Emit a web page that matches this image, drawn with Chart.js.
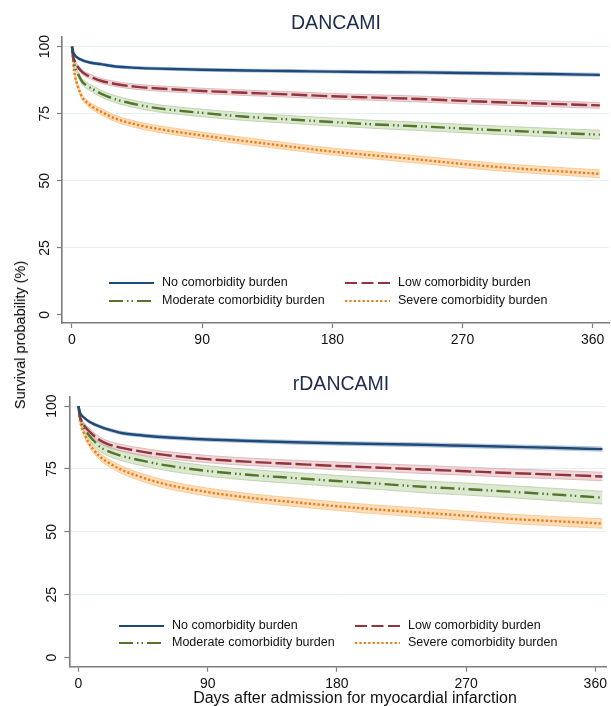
<!DOCTYPE html>
<html><head><meta charset="utf-8">
<script src="https://cdn.jsdelivr.net/npm/chart.js@4.4.1/dist/chart.umd.min.js"></script>
<style>
html,body{margin:0;padding:0;background:#fff;}
#wrap{position:relative;width:611px;height:706px;overflow:hidden;background:#fff;}
.cv{position:absolute;left:0;width:611px;height:353px;}
#ytitle{position:absolute;left:20px;top:335px;transform:translate(-50%,-50%) rotate(-90deg);font:14.5px "Liberation Sans",Arial,sans-serif;white-space:nowrap;color:#000;}
</style></head><body>
<div id="wrap">
<div class="cv" style="top:0"><canvas id="c1"></canvas></div>
<div class="cv" style="top:353px"><canvas id="c2"></canvas></div>
<div id="ytitle">Survival probability (%)</div>
</div>
<script>
// ---------- data ----------
const days = [0,1,2,4,7,10,15,20,30,45,60,90,120,150,180,210,240,270,300,330,365];
const xTicks = [0,90,180,270,360];
const yTicks = [0,25,50,75,100];
const seriesNames = ['No comorbidity burden','Low comorbidity burden','Moderate comorbidity burden','Severe comorbidity burden'];
const panelTitles = ['DANCAMI','rDANCAMI'];
const xAxisTitle = 'Days after admission for myocardial infarction';

// DANCAMI
const topNo  = [100,97.8,96.8,95.8,95.0,94.4,93.8,93.5,92.6,92.1,91.8,91.4,91.1,90.9,90.7,90.5,90.4,90.2,90.0,89.8,89.5];
const topLow = [100,96.0,94.5,92.5,90.6,89.5,88.3,87.3,86.1,85.0,84.4,83.5,82.8,82.2,81.5,81.0,80.5,79.8,79.2,78.7,78.1];
const topMod = [100,95.0,92.8,90.0,87.0,85.6,84.0,82.5,80.4,78.4,77.0,75.3,73.9,72.9,71.9,71.0,70.3,69.5,68.7,68.0,67.2];
const topSev = [100,93.0,89.3,85.3,81.2,79.3,77.3,75.8,73.2,70.9,69.3,66.9,64.8,62.8,60.9,59.4,57.9,56.3,54.9,53.8,52.6];
// CI half-widths (percentage points)
const topNoCI  = [0,0.3,0.35,0.4,0.45,0.45,0.5,0.5,0.5,0.5,0.5,0.55,0.55,0.55,0.55,0.6,0.6,0.6,0.6,0.6,0.6];
const topLowCI = [0,0.5,0.6,0.7,0.8,0.85,0.9,0.9,0.95,0.95,1.0,1.0,1.0,1.05,1.05,1.05,1.1,1.1,1.1,1.1,1.1];
const topModCI = [0,0.7,0.9,1.0,1.1,1.15,1.2,1.25,1.3,1.35,1.35,1.4,1.45,1.45,1.5,1.5,1.55,1.55,1.6,1.6,1.65];
const topSevCI = [0,0.7,0.85,0.95,1.0,1.05,1.1,1.15,1.2,1.2,1.25,1.25,1.3,1.3,1.3,1.35,1.35,1.4,1.4,1.4,1.45];

// rDANCAMI
const botNo  = [100,97.5,96.5,95.3,94.0,93.0,91.8,90.8,89.3,88.3,87.6,86.7,86.1,85.6,85.2,84.9,84.6,84.2,83.8,83.4,82.9];
const botLow = [100,96.0,94.3,92.2,90.3,88.6,86.4,85.0,83.4,81.8,80.6,78.9,77.8,77.0,76.2,75.5,74.8,74.1,73.4,72.8,72.0];
const botMod = [100,95.5,93.6,91.3,88.6,86.6,83.8,82.2,80.2,78.2,76.5,74.2,72.6,71.4,70.2,69.1,67.9,67.0,66.0,64.9,63.6];
const botSev = [100,94.5,92.0,89.0,85.5,83.0,79.9,77.8,74.7,71.5,69.0,65.8,63.5,61.8,60.2,58.8,57.6,56.4,55.2,54.3,53.3];
const botNoCI  = [0,0.35,0.4,0.45,0.5,0.55,0.6,0.6,0.65,0.65,0.7,0.7,0.7,0.75,0.75,0.75,0.8,0.8,0.8,0.8,0.85];
const botLowCI = [0,0.7,0.85,1.0,1.1,1.2,1.25,1.3,1.35,1.4,1.4,1.45,1.5,1.5,1.55,1.55,1.6,1.6,1.65,1.65,1.7];
const botModCI = [0,1.0,1.3,1.5,1.65,1.75,1.85,1.9,1.95,2.0,2.05,2.1,2.15,2.2,2.25,2.3,2.35,2.4,2.4,2.45,2.5];
const botSevCI = [0,0.8,1.0,1.15,1.25,1.3,1.4,1.45,1.5,1.55,1.6,1.6,1.65,1.7,1.7,1.75,1.8,1.8,1.85,1.85,1.9];

// ---------- styles ----------
const FONT = '"Liberation Sans", Arial, Helvetica, sans-serif';
const styles = [
  {color:'#1f4a78', band:'rgba(175,195,220,0.6)', edge:'rgba(140,165,200,0.7)', dash:[]},
  {color:'#93343c', band:'rgba(228,186,190,0.6)', edge:'rgba(205,150,156,0.7)', dash:[16,4]},
  {color:'#52762a', band:'rgba(205,222,188,0.7)', edge:'rgba(170,195,150,0.8)', dash:[14,4,1.5,3,1.5,4]},
  {color:'#ec7a17', band:'rgba(252,210,160,0.75)', edge:'rgba(248,185,120,0.8)', dash:[2.2,2.2]}
];

function pts(vals, hw, sign){
  return days.map((d,i)=>({x:d, y: vals[i] + sign*(hw ? hw[i] : 0)}));
}

function buildDatasets(series, cis){
  const ds = [];
  series.forEach((vals,k)=>{
    ds.push({data:pts(vals,cis[k],1), borderWidth:0.8, borderColor:styles[k].edge, pointRadius:0, backgroundColor:styles[k].band,
      fill:'+1', order:10, cubicInterpolationMode:'monotone'});
    ds.push({data:pts(vals,cis[k],-1), borderWidth:0.8, borderColor:styles[k].edge, pointRadius:0, backgroundColor:styles[k].band,
      fill:false, order:10, cubicInterpolationMode:'monotone'});
  });
  series.forEach((vals,k)=>{
    ds.push({label:seriesNames[k], data:pts(vals,null,0), borderColor:styles[k].color, borderWidth:2.4,
      borderDash:styles[k].dash, borderCapStyle:'butt', pointRadius:0, fill:false, order:k,
      cubicInterpolationMode:'monotone'});
  });
  return ds;
}

const panelPlugin = {
  id:'panelDeco',
  afterDraw(chart, args, o){
    const ctx = chart.ctx, ca = chart.chartArea, ys = chart.scales.y;
    ctx.save();
    // title
    ctx.font = '19.5px ' + FONT; ctx.fillStyle = '#1d2c4c'; ctx.textAlign='center'; ctx.textBaseline='middle';
    ctx.fillText(o.title, o.titleX, o.titleY);
    // y tick labels (rotated)
    ctx.font = '14px ' + FONT; ctx.fillStyle = '#111';
    ys.ticks.forEach(t=>{
      const y = ys.getPixelForValue(t.value);
      ctx.save(); ctx.translate(ca.left - 17, y); ctx.rotate(-Math.PI/2);
      ctx.fillText(String(t.value), 0, 0); ctx.restore();
    });
    // legend
    ctx.font = '12.5px ' + FONT; ctx.textAlign='left';
    seriesNames.forEach((name,k)=>{
      const col = k % 2, row = Math.floor(k/2);
      const sx = o.legCols[col], y = o.legRows[row];
      ctx.save();
      ctx.strokeStyle = styles[k].color; ctx.lineWidth = 2; ctx.lineCap='butt';
      ctx.setLineDash(k===1 ? [12,4.5] : styles[k].dash);
      ctx.beginPath(); ctx.moveTo(sx, y); ctx.lineTo(sx+45, y); ctx.stroke();
      ctx.restore();
      ctx.fillStyle = '#111';
      ctx.fillText(name, sx + 53, y);
    });
    if (o.xTitle){
      ctx.font = '16px ' + FONT; ctx.textAlign='center'; ctx.fillStyle='#111';
      ctx.fillText(o.xTitle, o.xTitleX, o.xTitleY);
    }
    ctx.restore();
  }
};

function makeChart(id, series, cis, cfg){
  return new Chart(document.getElementById(id), {
    type:'line',
    data:{datasets: buildDatasets(series, cis)},
    options:{
      responsive:true, maintainAspectRatio:false, animation:false,
      layout:{padding:cfg.padding},
      plugins:{legend:{display:false}, tooltip:{enabled:false}, title:{display:false},
        filler:{drawTime:'beforeDatasetsDraw'}, panelDeco:cfg.deco},
      scales:{
        x:{type:'linear', min:cfg.xmin, max:cfg.xmax,
          afterBuildTicks:s=>{s.ticks = xTicks.map(v=>({value:v}));},
          afterFit:s=>{s.height = 30;},
          grid:{drawOnChartArea:false, drawTicks:true, tickLength:5, tickColor:'#7d7d7d', tickWidth:1.2},
          border:{display:true, color:'#7d7d7d', width:1.6},
          ticks:{font:{family:FONT, size:14}, color:'#111', padding:4, maxRotation:0, autoSkip:false}
        },
        y:{type:'linear', min:cfg.ymin, max:cfg.ymax,
          afterBuildTicks:s=>{s.ticks = yTicks.map(v=>({value:v}));},
          afterFit:s=>{s.width = 40;},
          grid:{color:c=> (c.tick && c.tick.value===0) ? 'rgba(0,0,0,0)' : '#e6f0f3', lineWidth:1,
            drawTicks:true, tickLength:5, tickColor:'#7d7d7d', tickWidth:1.2},
          border:{display:true, color:'#7d7d7d', width:1.6},
          ticks:{display:false}
        }
      }
    },
    plugins:[panelPlugin]
  });
}

makeChart('c1', [topNo,topLow,topMod,topSev], [topNoCI,topLowCI,topModCI,topSevCI], {
  padding:{left:22, right:2, top:37, bottom:0},
  xmin:-6.9, xmax:371.3, ymin:-3.0, ymax:103.6,
  deco:{title:panelTitles[0], titleX:336, titleY:24, legCols:[109,345], legRows:[283,301]}
});
makeChart('c2', [botNo,botLow,botMod,botSev], [botNoCI,botLowCI,botModCI,botSevCI], {
  padding:{left:29.3, right:2, top:44, bottom:9.3},
  xmin:-6.4, xmax:367.6, ymin:-3.6, ymax:103.6,
  deco:{title:panelTitles[1], titleX:341, titleY:32, legCols:[119,355], legRows:[273,290],
    xTitle:xAxisTitle, xTitleX:355, xTitleY:346}
});
</script>
</body></html>
